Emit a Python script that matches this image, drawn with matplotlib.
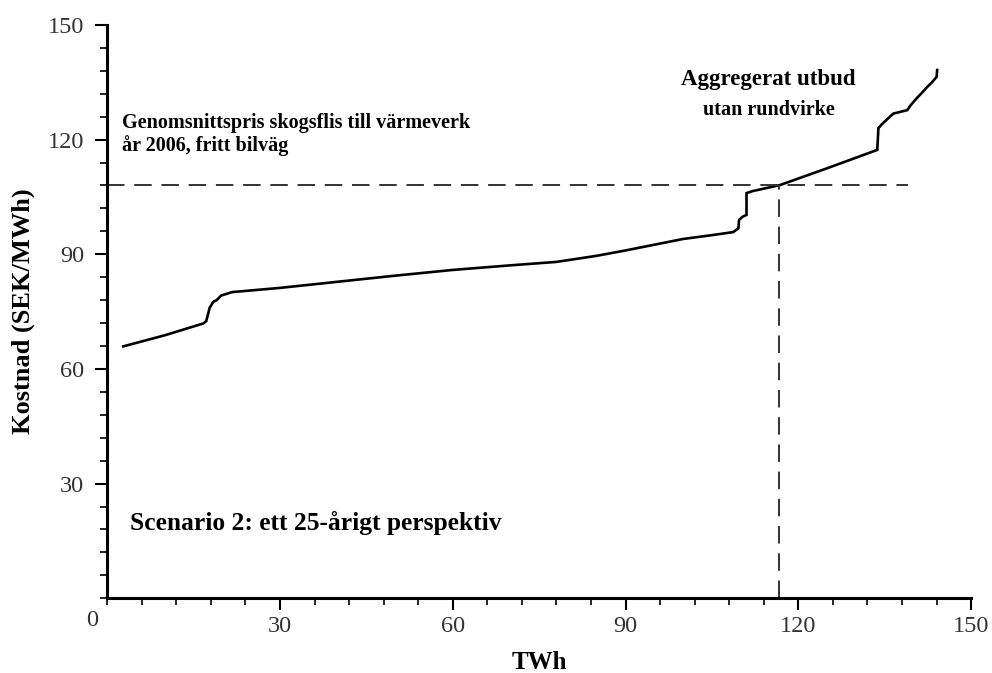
import numpy as np
import matplotlib.pyplot as plt
from matplotlib.ticker import MultipleLocator

plt.rcParams['font.family'] = ['Liberation Serif', 'DejaVu Serif']

# Aggregated supply curve (TWh, SEK/MWh)
supply_twh = [2.8, 10.0, 16.7, 17.2, 17.8, 18.4, 19.0, 19.8, 21.7, 30.0, 40.0, 50.0, 60.0,
              70.0, 78.0, 85.0, 90.0, 95.0, 100.0, 105.0, 108.7, 109.6, 109.7, 110.3,
              111.0, 111.0, 112.0, 116.8, 125.0, 133.7, 133.9, 134.5, 135.9, 136.5,
              138.9, 139.5, 140.6, 141.3, 142.4, 143.2, 144.0, 144.1]
supply_cost = [65.9, 68.8, 71.9, 72.5, 76.0, 77.5, 78.0, 79.2, 80.1, 81.2, 82.8, 84.4, 85.9,
               87.1, 88.0, 89.6, 91.0, 92.5, 94.0, 95.0, 95.8, 96.8, 99.0, 99.8,
               100.3, 106.0, 106.5, 108.1, 112.5, 117.3, 123.0, 124.0, 126.0, 126.8,
               127.7, 129.0, 130.9, 132.0, 133.8, 135.0, 136.4, 138.2]

avg_price = 108.2
crossing_twh = 116.7
price_line_end = 139.0

ticks = [30, 60, 90, 120, 150]

fig = plt.figure(figsize=(9.92, 6.73), dpi=100)
ax = fig.add_axes([0.108, 0.111, 0.871, 0.852])

ax.plot(supply_twh, supply_cost, color='black', lw=1.9, solid_joinstyle='miter')

ax.plot([0, price_line_end], [avg_price, avg_price], color='#333333', lw=1.4,
        dashes=(9, 5))
ax.plot([crossing_twh, crossing_twh], [0, avg_price], color='#333333', lw=1.4,
        dashes=(9, 5))

ax.set_xlim(0, 150)
ax.set_ylim(0, 150)
ax.xaxis.set_minor_locator(MultipleLocator(6))
ax.yaxis.set_minor_locator(MultipleLocator(6))
ax.set_xticks(ticks)
ax.set_yticks(ticks)
ax.tick_params(which='major', length=8.6, width=1.5, labelsize=17.5, labelcolor='#333333')
ax.tick_params(which='minor', length=5, width=1.2)
ax.tick_params(axis='y', which='major', pad=8)
ax.tick_params(axis='x', which='major', pad=4)

for side in ['top', 'right']:
    ax.spines[side].set_visible(False)
for side in ['left', 'bottom']:
    ax.spines[side].set_linewidth(2.2)

ax.text(-1.5, -3.0, '0', ha='right', va='top', fontsize=17.5, color='#333333')

ax.set_xlabel('TWh', fontsize=18, fontweight='bold', labelpad=10)
ax.set_ylabel('Kostnad (SEK/MWh)', fontsize=19, fontweight='bold', labelpad=9)

ax.text(2.6, 127.0, 'Genomsnittspris skogsflis till värmeverk\når 2006, fritt bilväg',
        fontsize=14.5, fontweight='bold', ha='left', va='top', linespacing=1.15)
ax.text(114.8, 135.6, 'Aggregerat utbud', fontsize=16.5, fontweight='bold', ha='center', va='center')
ax.text(114.8, 127.8, 'utan rundvirke', fontsize=14.5, fontweight='bold', ha='center', va='center')
ax.text(4.0, 19.8, 'Scenario 2: ett 25-årigt perspektiv', fontsize=18.4, fontweight='bold',
        ha='left', va='center')

fig.savefig('out.png', dpi=100)
